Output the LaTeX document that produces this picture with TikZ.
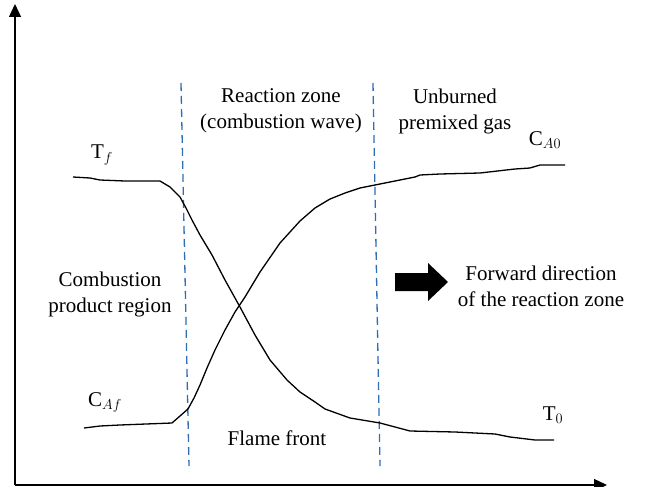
\documentclass[tikz,border=0pt]{standalone}
\usepackage{fontspec}
\setmainfont{Liberation Serif}
\usepackage{tikz}
\usetikzlibrary{arrows.meta,positioning}
\definecolor{zoneline}{HTML}{2F6DB5}

\begin{document}
\begin{tikzpicture}[x=1pt,y=-1pt,
  lbl/.style={font=\fontsize{21}{26}\selectfont,align=center,inner sep=1pt},
  axis/.style={-{Triangle[length=13pt,width=12pt]},line width=1.3pt},
  zone/.style={draw=zoneline,dash pattern=on 8pt off 5pt,line width=1.3pt},
  curve/.style={line width=1.3pt,line join=round}
]
\useasboundingbox (0,0) rectangle (645,487);
% axes
\coordinate (o) at (15,485);
\coordinate (ytop) at (15,4);
\coordinate (xend) at (607,485);
\draw[axis] (o) -- (ytop);
\draw[axis] (o) -- (xend);
% zone borders
\coordinate (z1t) at (181,83);
\coordinate (z1b) at (189,466);
\coordinate (z2t) at (373,83);
\coordinate (z2b) at (380,466);
\draw[zone] (z1t) -- (z1b);
\draw[zone] (z2t) -- (z2b);
% temperature
\draw[curve] plot coordinates {(73,177) (90,178) (100,180) (125,181) (160,181)
  (170,187) (180,197) (186,208) (192,220) (200,235) (212,255) (225,280)
  (240,307) (255,335) (270,360) (287,380) (300,392) (315,402) (325,409)
  (350,418) (380,423) (395,427) (410,431) (455,432) (495,434) (510,437)
  (535,440) (554,440)};
% concentration
\draw[curve] plot coordinates {(84,428) (100,426) (120,425) (172,423)
  (180,416) (188,409) (194,398) (200,385) (207,368) (215,350) (225,330)
  (235,312) (245,297) (260,272) (280,243) (300,221) (315,208) (330,199)
  (345,193) (360,188) (375,185) (390,182) (400,180) (415,177) (420,175)
  (440,174) (480,173) (515,169) (530,168) (540,165) (565,165)};
% labels
\node[lbl] (tf) at (102,155) {T$_f$};
\node[lbl] (caf) at (105,402) {C$_{Af}$};
\node[lbl] (ca0) at (545,140) {C$_{A0}$};
\node[lbl] (t0) at (553,415) {T$_0$};
\node[lbl] (rz) at (281,111) {Reaction zone\\(combustion wave)};
\node[lbl] (ub) at (455,111) {Unburned\\premixed gas};
\node[lbl] (cp) at (110,294) {Combustion\\product region};
\node[lbl] (ff) at (277,438) {Flame front};
\node[lbl] (fw) at (541,286) {Forward direction\\of the reaction zone};
% direction arrow
\fill (395,273) -- (428,273) -- (428,263) -- (448,282) -- (428,301)
  -- (428,291) -- (395,291) -- cycle;
\end{tikzpicture}
\end{document}
